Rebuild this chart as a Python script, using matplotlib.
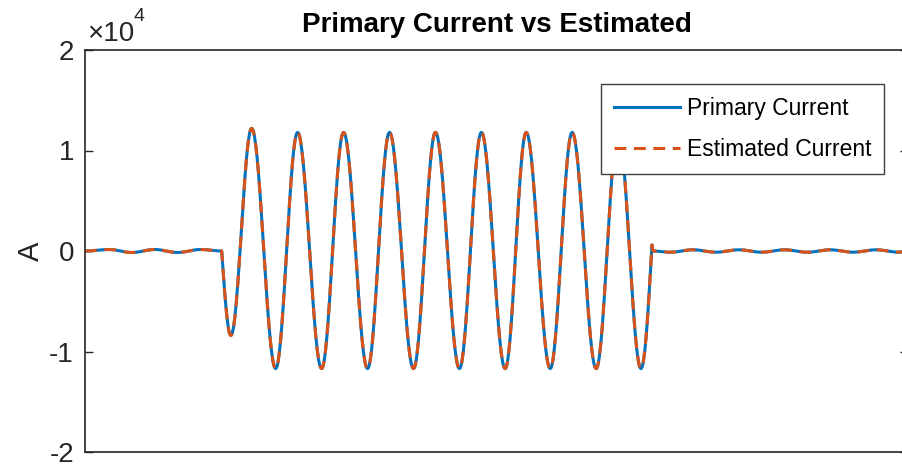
import numpy as np
import matplotlib
matplotlib.use("Agg")
import matplotlib.pyplot as plt

# ---------------- data ----------------
# pre-fault load current extrema (s, A)
pre_t = [0.0000, 0.0105, 0.0205, 0.0305, 0.0405, 0.0505, 0.0598]
pre_v = [0, 150, -150, 150, -150, 150, 0]
# fault current extrema (s, A)
fault_t = [0.0638, 0.0729, 0.0834, 0.0930, 0.1035, 0.1131, 0.1236, 0.1332, 0.1437,
           0.1533, 0.1638, 0.1734, 0.1838, 0.1930, 0.2035, 0.2131, 0.2236, 0.2332, 0.2432]
fault_v = [-8400, 12200, -11700, 11800, -11700, 11800, -11700, 11800, -11700,
           11800, -11700, 11800, -11700, 11800, -11700, 11800, -11700, 11800, -11700]
# clearing spike
clear_t = [0.2480, 0.2484]
clear_v = [600, 0]
# post-fault load current extrema (s, A)
post_t = [0.2560, 0.2660, 0.2760, 0.2860, 0.2960, 0.3060, 0.3160, 0.3260, 0.3360, 0.3460, 0.3560, 0.3600]
post_v = [-120, 120, -120, 120, -120, 120, -120, 120, -120, 120, -120, 0]

# estimated current (overlaps the primary current)
est_pre_v = list(pre_v)
est_fault_v = list(fault_v)
est_clear_v = list(clear_v)
est_post_v = list(post_v)

y_ticks = [-2e4, -1e4, 0, 1e4, 2e4]
y_tick_labels = ["-2", "-1", "0", "1", "2"]
x_lim = (0.0, 0.36)


def seg(t0, v0, t1, v1, shape, n=40):
    s = np.linspace(0, 1, n)
    if shape == "c":
        w = (1 - np.cos(np.pi * s)) / 2
    elif shape == "s":
        w = np.sin(np.pi / 2 * s)
    elif shape == "e":
        w = 1 - np.cos(np.pi / 2 * s)
    else:
        w = s
    return t0 + (t1 - t0) * s, v0 + (v1 - v0) * w


def build(pv, fv, cv, qv):
    knots = []
    for t, v in zip(pre_t, pv):
        knots.append((t, v, "c"))
    knots.append((fault_t[0], fv[0], "s"))
    for t, v in zip(fault_t[1:], fv[1:]):
        knots.append((t, v, "c"))
    knots.append((clear_t[0], cv[0], "e"))
    knots.append((clear_t[1], cv[1], "l"))
    for t, v in zip(post_t, qv):
        knots.append((t, v, "c"))
    T, V = [], []
    for (t0, v0, _), (t1, v1, sh) in zip(knots[:-1], knots[1:]):
        tt, vv = seg(t0, v0, t1, v1, sh)
        T.append(tt[:-1]); V.append(vv[:-1])
    T.append([knots[-1][0]]); V.append([knots[-1][1]])
    return np.concatenate(T), np.concatenate(V)


t_p, i_p = build(pre_v, fault_v, clear_v, post_v)
t_e, i_e = build(est_pre_v, est_fault_v, est_clear_v, est_post_v)

# ---------------- fonts ----------------
plt.rcParams["font.family"] = ["Liberation Sans", "DejaVu Sans"]
plt.rcParams["lines.scale_dashes"] = False

W, H = 902, 467
fig = plt.figure(figsize=(W / 100, H / 100), dpi=100)
ax = fig.add_axes([85 / W, 15 / H, 823 / W, 402 / H])

ax.plot(t_p, i_p, color="#0072BD", lw=2.2, label="Primary Current")
ax.plot(t_e, i_e, color="#D95319", lw=2.2, dashes=(8.5, 5.5), label="Estimated Current")

ax.set_xlim(*x_lim)
ax.set_ylim(-2e4, 2e4)
ax.set_xticks([])
ax.set_yticks(y_ticks)
ax.set_yticklabels(y_tick_labels, fontsize=20, color="#262626")
ax.tick_params(axis="y", direction="in", length=6, width=1.0, colors="#262626",
               right=True, left=True, labelcolor="#262626", pad=8)
for sp in ax.spines.values():
    sp.set_color("#262626")
    sp.set_linewidth(1.2)

ax.set_title("Primary Current vs Estimated", fontsize=20, fontweight="bold", pad=13)

fig.text(31 / W, 1 - 251 / H, "A", rotation=90, ha="center", va="center",
         fontsize=21, color="#262626")
fig.text(87 / W, 1 - 41 / H, "×10", ha="left", va="baseline", fontsize=20, color="#262626")
fig.text(134 / W, 1 - 21 / H, "4", ha="left", va="baseline", fontsize=14, color="#262626")

leg = ax.legend(loc="upper right", bbox_to_anchor=(884 / W, 1 - 84 / H),
                bbox_transform=fig.transFigure, borderaxespad=0, fontsize=16.5,
                frameon=True, fancybox=False, framealpha=1, edgecolor="#404040",
                handlelength=2.9, handletextpad=0.3, labelspacing=0.8, borderpad=0.55)
leg.get_frame().set_linewidth(1.0)

fig.savefig("out.png", dpi=100)
